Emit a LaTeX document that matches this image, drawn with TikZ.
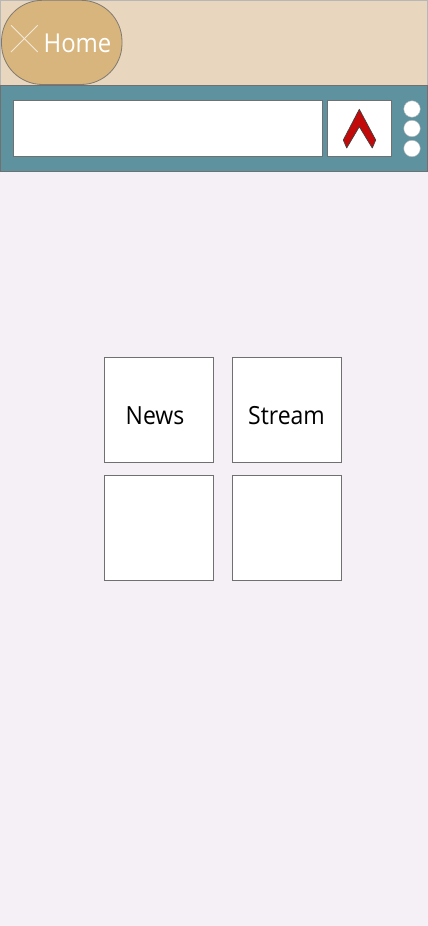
\documentclass[tikz,border=0pt]{standalone}
\usepackage{fontspec}
\setmainfont[FakeStretch=0.92]{Open Sans}
\definecolor{pagebg}{HTML}{F4F0F5}
\definecolor{headbg}{HTML}{E8D6BE}
\definecolor{pillbg}{HTML}{D8B57C}
\definecolor{barbg}{HTML}{5F929F}
\definecolor{edge}{HTML}{707070}
\definecolor{chev}{HTML}{C20A0A}
\definecolor{crosscol}{HTML}{F2E8DA}
\tikzset{
  box/.style={draw=edge,line width=0.8pt,fill=white},
  label/.style={font=\fontsize{25}{29}\selectfont,inner sep=0pt,anchor=base},
  homelabel/.style={font=\fontsize{26}{30}\selectfont,inner sep=0pt,anchor=base},
  dot/.style={circle,fill=white,draw=edge!50,line width=0.4pt,minimum size=16.5pt,inner sep=0pt},
  crossline/.style={draw=crosscol,line width=0.8pt}
}
\begin{document}
\begin{tikzpicture}[x=1pt,y=-1pt]
\useasboundingbox (0,0) rectangle (428,926);
\fill[pagebg] (0,0) rectangle (428,926);
\draw[fill=headbg,draw=edge!50,line width=0.8pt] (0.4,0.4) rectangle (427.6,85);
\draw[fill=pillbg,draw=edge!85!pillbg,line width=0.8pt,rounded corners=41pt] (1.5,0.3) rectangle (122,84.5);
\coordinate (xa) at (11,25.3); \coordinate (xb) at (37.7,52);
\coordinate (xc) at (37.7,25.3); \coordinate (xd) at (11,52);
\draw[crossline] (xa) -- (xb);
\draw[crossline] (xc) -- (xd);
\node[homelabel,text=white] (home) at (77.5,52.7) {Home};
\draw[fill=barbg,draw=edge,line width=0.8pt] (0.4,85.5) rectangle (427.6,171.5);
\draw[box] (13.5,100.5) rectangle (322.5,156.5);
\draw[box] (327.5,100.5) rectangle (391.5,156.5);
\draw[fill=chev,draw=black!75,line width=0.7pt,line join=round] (359.3,109.3) -- (375.7,140) -- (372.3,148) -- (359.3,126.7) -- (346.7,148) -- (343.3,140) -- cycle;
\node[dot] (d1) at (412,109) {};
\node[dot] (d2) at (412,128.5) {};
\node[dot] (d3) at (412,148.5) {};
\draw[box] (104.5,357.5) rectangle (213.5,462.5);
\draw[box] (232.5,357.5) rectangle (341.5,462.5);
\draw[box] (104.5,475.5) rectangle (213.5,580.5);
\draw[box] (232.5,475.5) rectangle (341.5,580.5);
\node[label,text=black] (news) at (155,424) {News};
\node[label,text=black] (stream) at (286.5,424) {Stream};
\end{tikzpicture}
\end{document}
